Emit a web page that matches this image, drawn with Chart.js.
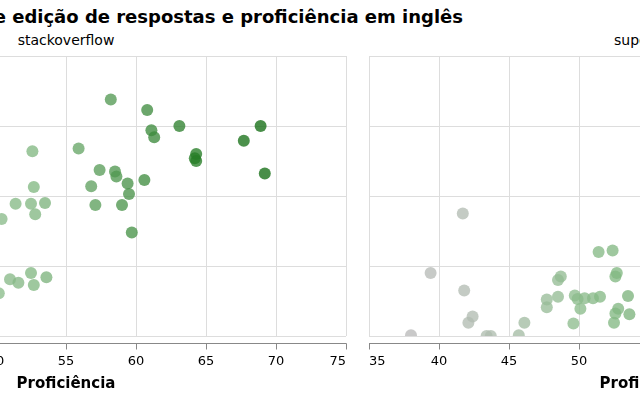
<!DOCTYPE html>
<html>
<head>
<meta charset="utf-8">
<script src="https://cdn.jsdelivr.net/npm/chart.js@4/dist/chart.umd.min.js"></script>
<style>
  html, body { margin: 0; padding: 0; width: 640px; height: 400px; overflow: hidden; background: #fff; font-family: "DejaVu Sans", sans-serif; }
  #title { position: absolute; right: 177px; top: 6px; font-size: 18px; font-weight: bold; white-space: nowrap; color: #000; }
  .facet { position: absolute; top: 32px; width: 300px; text-align: center; font-size: 14px; color: #000; }
  .box { position: absolute; top: 0; width: 600px; height: 400px; }
</style>
</head>
<body>
<div id="title">Taxa de edição de respostas e proficiência em inglês</div>
<div class="facet" style="left:-84px">stackoverflow</div>
<div class="facet" style="left:499px">superuser</div>
<div class="box" style="left:-234px"><canvas id="chartSO" width="600" height="400"></canvas></div>
<div class="box" style="left:349px"><canvas id="chartSU" width="600" height="400"></canvas></div>

<script>
// dados
const soProficiencia = [58.2, 60.8, 61.1, 61.3, 63.1, 68.9, 67.7, 69.2, 64.3, 64.2, 64.3, 52.6, 55.9, 57.4, 58.5, 58.6,
  56.8, 59.4, 59.5, 60.6, 57.1, 59.0, 59.7, 52.7, 51.4, 52.5, 53.5, 52.8, 50.4, 52.5, 51.0, 51.6, 52.7, 53.6, 50.2];
const soEdicao = [0.338, 0.323, 0.294, 0.284, 0.300, 0.300, 0.279, 0.232, 0.260, 0.254, 0.250, 0.264, 0.268, 0.237, 0.235, 0.228,
  0.214, 0.218, 0.203, 0.223, 0.187, 0.187, 0.148, 0.213, 0.189, 0.189, 0.190, 0.174, 0.167, 0.090, 0.081, 0.076, 0.073, 0.084, 0.061];

const suProficiencia = [41.7, 39.4, 41.8, 42.4, 42.1, 38.0, 43.4, 43.7, 45.7, 46.1, 47.7, 47.7, 48.5, 48.5, 48.7, 49.6,
  49.7, 49.9, 50.1, 50.4, 51.0, 51.5, 51.4, 52.4, 52.7, 52.6, 52.8, 52.6, 52.5, 53.5, 53.6];
const suEdicao = [0.175, 0.090, 0.065, 0.028, 0.019, 0.001, 0.000, 0.000, 0.001, 0.019, 0.041, 0.052, 0.056, 0.080, 0.085, 0.018,
  0.058, 0.053, 0.039, 0.054, 0.054, 0.056, 0.120, 0.122, 0.090, 0.085, 0.039, 0.032, 0.019, 0.057, 0.031];

const xTicks = [35, 40, 45, 50, 55, 60, 65, 70, 75];
const yTicks = [0, 0.1, 0.2, 0.3, 0.4];

// escala de cor (cinza -> verde) pela proficiência
const colorStops = [
  [38, [186, 186, 186]], [44, [175, 190, 175]], [50, [140, 188, 140]], [53, [130, 183, 130]],
  [58, [86, 155, 86]], [64, [40, 126, 40]], [69, [20, 110, 20]]
];
function colorFor(v) {
  if (v <= colorStops[0][0]) return rgba(colorStops[0][1]);
  for (let i = 1; i < colorStops.length; i++) {
    const [v1, c1] = colorStops[i];
    const [v0, c0] = colorStops[i - 1];
    if (v <= v1) {
      const t = (v - v0) / (v1 - v0);
      return rgba(c0.map((c, k) => c + (c1[k] - c) * t));
    }
  }
  return rgba(colorStops[colorStops.length - 1][1]);
}
function rgba(c) {
  return `rgba(${Math.round(c[0])}, ${Math.round(c[1])}, ${Math.round(c[2])}, 0.78)`;
}

Chart.defaults.font.family = "'DejaVu Sans', sans-serif";

// linha do eixo x com deslocamento (estilo vega)
const axisLine = {
  id: 'axisLine',
  afterDraw(chart) {
    const sx = chart.scales.x;
    const ctx = chart.ctx;
    const y = chart.chartArea.bottom + 7.5;
    ctx.save();
    ctx.strokeStyle = '#888';
    ctx.lineWidth = 1;
    ctx.beginPath();
    ctx.moveTo(sx.left, y);
    ctx.lineTo(sx.right + 0.5, y);
    sx.ticks.forEach(t => {
      const px = Math.round(sx.getPixelForValue(t.value)) + 0.5;
      ctx.moveTo(px, y);
      ctx.lineTo(px, y + 6);
    });
    ctx.stroke();
    ctx.restore();
  }
};

function makeChart(id, xs, ys) {
  const ctx = document.getElementById(id).getContext('2d');
  return new Chart(ctx, {
    type: 'scatter',
    data: {
      datasets: [{
        data: xs.map((x, i) => ({ x: x, y: ys[i] })),
        backgroundColor: c => colorFor(c.raw.x),
        borderWidth: 0,
        pointRadius: 6,
        pointHoverRadius: 6
      }]
    },
    options: {
      responsive: false,
      devicePixelRatio: 1,
      animation: false,
      events: [],
      layout: { padding: { left: 20, right: 20, top: 56, bottom: 0 } },
      plugins: { legend: { display: false }, tooltip: { enabled: false } },
      scales: {
        x: {
          type: 'linear',
          min: xTicks[0],
          max: xTicks[xTicks.length - 1],
          afterBuildTicks: s => { s.ticks = xTicks.map(v => ({ value: v })); },
          afterFit: s => { s.height = 64; },
          ticks: { font: { size: 13 }, color: '#000', align: 'inner', padding: 18, maxRotation: 0 },
          grid: { color: '#ddd', drawTicks: false },
          border: { display: false },
          title: { display: true, text: 'Proficiência', color: '#000', font: { size: 15, weight: 'bold' }, padding: { top: 0, bottom: 7 } }
        },
        y: {
          min: yTicks[0],
          max: yTicks[yTicks.length - 1],
          afterBuildTicks: s => { s.ticks = yTicks.map(v => ({ value: v })); },
          afterFit: s => { s.width = 0; },
          ticks: { display: false },
          grid: { color: '#ddd', drawTicks: false },
          border: { display: false }
        }
      }
    },
    plugins: [axisLine]
  });
}

makeChart('chartSO', soProficiencia, soEdicao);
makeChart('chartSU', suProficiencia, suEdicao);
</script>
</body>
</html>
